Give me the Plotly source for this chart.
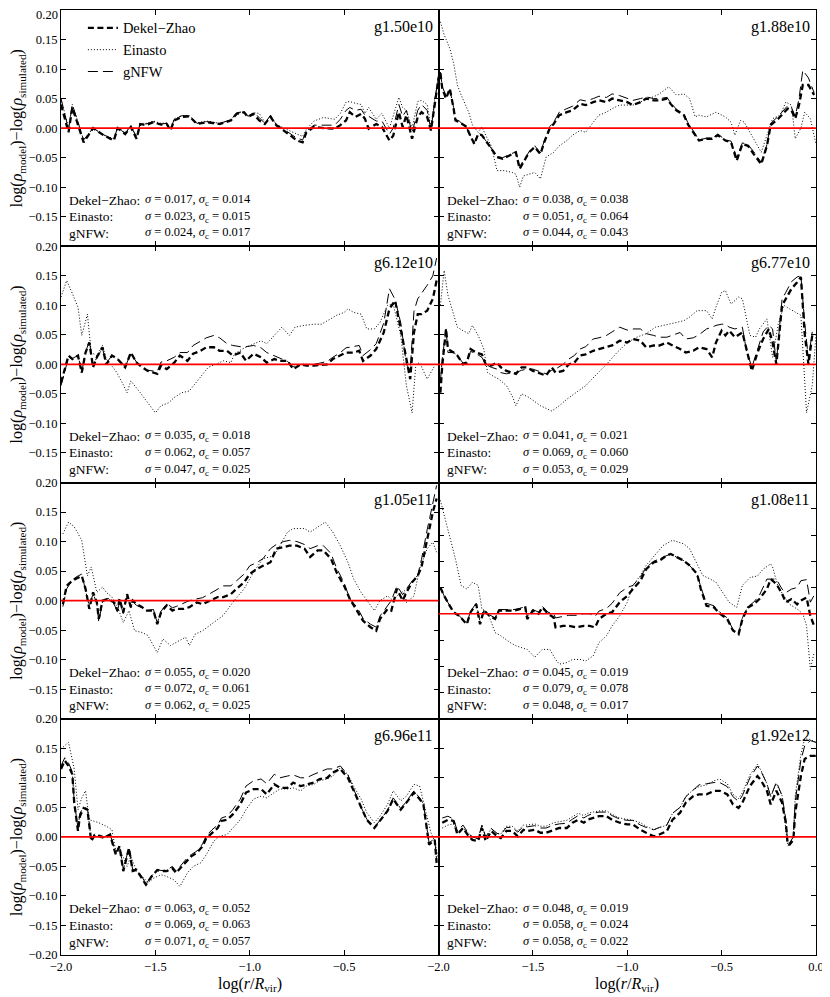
import plotly.graph_objects as go
from plotly.subplots import make_subplots

# ---------------- data ----------------
panel_names = ["g1.50e10", "g1.88e10", "g6.12e10", "g6.77e10",
               "g1.05e11", "g1.08e11", "g6.96e11", "g1.92e12"]

sigma_dz = [0.017, 0.038, 0.035, 0.041, 0.055, 0.045, 0.063, 0.048]
sigmac_dz = [0.014, 0.038, 0.018, 0.021, 0.020, 0.019, 0.052, 0.019]
sigma_ein = [0.023, 0.051, 0.062, 0.069, 0.072, 0.079, 0.069, 0.058]
sigmac_ein = [0.015, 0.064, 0.057, 0.060, 0.061, 0.078, 0.063, 0.024]
sigma_gnfw = [0.024, 0.044, 0.047, 0.053, 0.062, 0.048, 0.071, 0.058]
sigmac_gnfw = [0.017, 0.043, 0.025, 0.029, 0.025, 0.017, 0.057, 0.022]

# panel 1: g1.50e10
x_p1 = [-2.0, -1.96, -1.94, -1.88, -1.83, -1.77, -1.72, -1.70, -1.66, -1.63, -1.60, -1.58, -1.55, -1.51, -1.47,
        -1.44, -1.42, -1.40, -1.36, -1.32, -1.28, -1.23, -1.16, -1.10, -1.07, -1.03, -1.01, -0.98, -0.95, -0.92,
        -0.89, -0.86, -0.82, -0.78, -0.75, -0.72, -0.70, -0.66, -0.61, -0.55, -0.52, -0.49, -0.47, -0.44, -0.41,
        -0.39, -0.37, -0.33, -0.30, -0.26, -0.24, -0.21, -0.19, -0.17, -0.14, -0.11, -0.09, -0.06, -0.04, -0.02, 0.0]
dz_p1 = [0.04, -0.007, 0.035, -0.024, 0.0, -0.013, -0.021, 0.0, -0.01, 0.002, -0.018, 0.007, 0.005, 0.01, 0.006,
         0.007, -0.004, 0.013, 0.019, 0.02, 0.007, 0.01, 0.007, 0.013, 0.024, 0.027, 0.019, 0.024, 0.013, 0.007,
         0.019, 0.005, -0.004, -0.013, -0.021, -0.024, -0.007, 0.002, 0.0, -0.001, 0.005, 0.013, 0.027, 0.019, 0.024,
         0.016, -0.001, 0.007, 0.002, -0.021, -0.013, 0.027, 0.002, 0.022, -0.018, 0.019, 0.027, 0.019, -0.004, 0.04, 0.085]
ein_p1 = [0.05, 0.0, 0.04, -0.02, 0.0, -0.012, -0.018, 0.002, -0.008, 0.004, -0.014, 0.008,
          0.008, 0.012, 0.008, 0.009, 0.0, 0.016, 0.021, 0.021, 0.009, 0.012, 0.008, 0.014,
          0.025, 0.027, 0.02, 0.026, 0.025, 0.01, 0.02, 0.007, 0.0, -0.005, -0.01, -0.014,
          -0.002, 0.012, 0.018, 0.015, 0.025, 0.044, 0.045, 0.042, 0.04, 0.025, 0.035, 0.015,
          0.025, 0.0, 0.02, 0.052, 0.035, 0.03, 0.0, 0.045, 0.047, 0.04, 0.0, 0.05, 0.085]
gnfw_p1 = [0.05, -0.002, 0.04, -0.02, 0.0, -0.012, -0.019, 0.001, -0.009, 0.003, -0.015, 0.008,
           0.007, 0.011, 0.007, 0.008, -0.002, 0.015, 0.021, 0.021, 0.008, 0.011, 0.008, 0.014,
           0.026, 0.028, 0.02, 0.026, 0.018, 0.008, 0.022, 0.006, -0.002, -0.01, -0.017, -0.02,
           -0.005, 0.005, 0.005, 0.005, 0.015, 0.03, 0.035, 0.03, 0.032, 0.022, 0.02, 0.012,
           0.012, -0.01, 0.0, 0.04, 0.02, 0.03, -0.008, 0.03, 0.04, 0.03, -0.003, 0.045, 0.09]

# panel 2: g1.88e10
x_p2 = [-1.99, -1.98, -1.96, -1.94, -1.92, -1.91, -1.89, -1.85, -1.84, -1.81, -1.79, -1.77, -1.73, -1.69, -1.66,
        -1.62, -1.59, -1.57, -1.54, -1.52, -1.49, -1.46, -1.44, -1.41, -1.39, -1.36, -1.32, -1.29, -1.25, -1.22,
        -1.18, -1.15, -1.11, -1.08, -1.04, -1.00, -0.97, -0.93, -0.90, -0.86, -0.83, -0.79, -0.77, -0.74, -0.70,
        -0.68, -0.65, -0.62, -0.58, -0.55, -0.52, -0.48, -0.45, -0.42, -0.39, -0.36, -0.33, -0.29, -0.26, -0.24,
        -0.20, -0.17, -0.15, -0.13, -0.11, -0.09, -0.07, -0.04, -0.01]
dz_p2 = [0.093, 0.067, 0.05, 0.067, 0.033, 0.013, 0.01, 0.002, -0.007, -0.027, -0.01, -0.012, -0.03, -0.049, -0.052,
         -0.046, -0.041, -0.069, -0.052, -0.041, -0.032, -0.044, -0.024, 0.0, 0.007, 0.022, 0.027, 0.03, 0.041, 0.039,
         0.044, 0.047, 0.044, 0.05, 0.047, 0.044, 0.039, 0.044, 0.05, 0.047, 0.047, 0.05, 0.041, 0.03, 0.022,
         0.007, -0.007, -0.021, -0.018, -0.018, -0.012, -0.021, -0.024, -0.055, -0.027, -0.03, -0.044, -0.061, -0.03, 0.005,
         0.016, 0.027, 0.033, 0.03, 0.016, 0.039, 0.073, 0.073, 0.056]
gnfw_p2 = [0.095, 0.07, 0.055, 0.065, 0.035, 0.015, 0.012, 0.0, -0.008, -0.025, -0.008, -0.012, -0.03, -0.048, -0.05,
           -0.045, -0.04, -0.065, -0.05, -0.04, -0.03, -0.042, -0.022, 0.003, 0.01, 0.027, 0.033, 0.037, 0.048, 0.046,
           0.05, 0.054, 0.052, 0.058, 0.055, 0.05, 0.047, 0.05, 0.053, 0.05, 0.05, 0.052, 0.043, 0.032, 0.024,
           0.01, -0.004, -0.02, -0.017, -0.017, -0.01, -0.02, -0.022, -0.05, -0.025, -0.028, -0.04, -0.058, -0.028, 0.008,
           0.02, 0.03, 0.038, 0.035, 0.02, 0.05, 0.098, 0.085, 0.06]
xe_p2 = [-1.99, -1.97, -1.94, -1.92, -1.90, -1.88, -1.84, -1.82, -1.79, -1.77, -1.75, -1.72, -1.69, -1.65, -1.61,
         -1.59, -1.57, -1.55, -1.52, -1.49, -1.46, -1.43, -1.39, -1.36, -1.32, -1.29, -1.25, -1.22, -1.18, -1.15,
         -1.11, -1.08, -1.04, -1.00, -0.97, -0.93, -0.90, -0.86, -0.83, -0.78, -0.74, -0.70, -0.67, -0.64, -0.62,
         -0.58, -0.53, -0.48, -0.45, -0.43, -0.40, -0.38, -0.35, -0.31, -0.29, -0.26, -0.23, -0.19, -0.16, -0.13,
         -0.11, -0.08, -0.06, -0.03, 0.0]
ein_p2 = [0.18, 0.158, 0.135, 0.11, 0.073, 0.056, 0.027, 0.005, -0.007, 0.002, -0.012, -0.03, -0.072, -0.072, -0.075,
          -0.078, -0.1, -0.081, -0.078, -0.075, -0.086, -0.049, -0.041, -0.03, -0.021, -0.012, -0.004, -0.007, 0.01, 0.022,
          0.027, 0.033, 0.039, 0.039, 0.039, 0.044, 0.05, 0.053, 0.058, 0.07, 0.056, 0.058, 0.05, 0.019, 0.022,
          0.019, 0.027, 0.019, 0.01, -0.012, 0.013, 0.01, -0.007, -0.03, -0.041, -0.012, 0.016, 0.022, 0.044, 0.039,
          -0.018, 0.0, 0.027, 0.016, -0.027]

# panel 3: g6.12e10
x_p3 = [-2.0, -1.97, -1.96, -1.94, -1.91, -1.89, -1.87, -1.85, -1.83, -1.81, -1.78, -1.76, -1.73, -1.70, -1.66,
        -1.63, -1.60, -1.57, -1.54, -1.49, -1.47, -1.44, -1.40, -1.37, -1.33, -1.30, -1.26, -1.23, -1.19, -1.16,
        -1.12, -1.09, -1.05, -1.02, -0.98, -0.94, -0.91, -0.87, -0.84, -0.80, -0.77, -0.73, -0.70, -0.66, -0.63,
        -0.59, -0.56, -0.52, -0.49, -0.45, -0.42, -0.40, -0.36, -0.33, -0.29, -0.26, -0.23, -0.20, -0.17, -0.15,
        -0.13, -0.11, -0.09, -0.06, -0.03, -0.01]
dz_p3 = [-0.031, 0.003, 0.015, 0.009, 0.015, -0.014, 0.02, 0.037, -0.005, 0.012, 0.029, 0.0, 0.015, 0.009, -0.005,
         0.02, 0.003, -0.005, -0.011, -0.016, -0.002, -0.008, 0.003, 0.015, 0.006, 0.018, 0.023, 0.029, 0.029, 0.023,
         0.023, 0.015, 0.02, 0.006, 0.018, 0.012, 0.003, 0.009, 0.006, 0.006, -0.008, 0.0, -0.002, -0.002, -0.001,
         0.0, 0.009, 0.015, 0.02, 0.02, 0.023, 0.006, 0.015, 0.026, 0.054, 0.094, 0.108, 0.06, 0.009, -0.025,
         0.054, 0.085, 0.085, 0.091, 0.111, 0.142]
gnfw_p3 = [-0.036, 0.0, 0.012, 0.01, 0.015, -0.012, 0.02, 0.04, -0.003, 0.012, 0.027, 0.002, 0.015, 0.01, -0.004,
           0.018, 0.004, -0.004, -0.01, -0.012, 0.004, 0.006, 0.012, 0.02, 0.02, 0.032, 0.04, 0.045, 0.049, 0.045,
           0.035, 0.032, 0.03, 0.03, 0.032, 0.028, 0.02, 0.015, 0.01, 0.005, -0.004, 0.0, 0.0, 0.0, 0.002,
           0.005, 0.012, 0.02, 0.028, 0.03, 0.032, 0.015, 0.025, 0.035, 0.07, 0.128, 0.11, 0.07, 0.0, -0.01,
           0.09, 0.111, 0.12, 0.134, 0.15, 0.18]
xe_p3 = [-2.0, -1.97, -1.94, -1.91, -1.89, -1.86, -1.84, -1.81, -1.78, -1.76, -1.71, -1.68, -1.65, -1.63, -1.58,
         -1.54, -1.50, -1.47, -1.43, -1.40, -1.36, -1.32, -1.29, -1.25, -1.22, -1.18, -1.14, -1.10, -1.08, -1.04,
         -1.02, -0.98, -0.94, -0.91, -0.87, -0.83, -0.79, -0.76, -0.71, -0.66, -0.62, -0.57, -0.54, -0.50, -0.48,
         -0.45, -0.41, -0.38, -0.34, -0.31, -0.27, -0.24, -0.20, -0.17, -0.14, -0.12, -0.10, -0.06, -0.02]
ein_p3 = [0.114, 0.142, 0.12, 0.097, 0.049, 0.085, 0.02, 0.015, 0.032, 0.009, -0.011, -0.028, -0.048, -0.028, -0.048,
          -0.065, -0.082, -0.07, -0.065, -0.056, -0.048, -0.045, -0.033, -0.019, -0.005, 0.0, 0.006, 0.003, 0.018, 0.026,
          0.029, 0.035, 0.04, 0.035, 0.049, 0.063, 0.049, 0.063, 0.066, 0.068, 0.068, 0.077, 0.083, 0.088, 0.094,
          0.088, 0.085, 0.06, 0.06, 0.071, 0.1, 0.102, 0.049, -0.036, -0.082, 0.0, 0.003, -0.025, -0.002]

# panel 4: g6.77e10
x_p4 = [-1.99, -1.98, -1.96, -1.95, -1.92, -1.90, -1.87, -1.85, -1.83, -1.80, -1.77, -1.75, -1.72, -1.69, -1.67,
        -1.64, -1.61, -1.59, -1.56, -1.53, -1.50, -1.46, -1.43, -1.40, -1.38, -1.34, -1.31, -1.28, -1.25, -1.22,
        -1.18, -1.15, -1.11, -1.08, -1.04, -1.00, -0.97, -0.93, -0.90, -0.86, -0.83, -0.79, -0.76, -0.72, -0.69,
        -0.65, -0.62, -0.58, -0.55, -0.53, -0.50, -0.48, -0.46, -0.43, -0.39, -0.37, -0.34, -0.31, -0.28, -0.25,
        -0.23, -0.21, -0.18, -0.16, -0.13, -0.10, -0.08, -0.06, -0.04, -0.02]
dz_p4 = [-0.048, -0.002, 0.06, 0.026, 0.02, 0.015, 0.0, 0.003, 0.026, 0.02, 0.017, 0.0, -0.002, 0.003, -0.005,
         -0.011, -0.014, -0.016, -0.005, -0.005, -0.011, -0.016, -0.019, -0.005, -0.014, -0.011, 0.0, 0.003, 0.015, 0.017,
         0.023, 0.026, 0.029, 0.032, 0.04, 0.037, 0.043, 0.04, 0.029, 0.032, 0.032, 0.037, 0.032, 0.026, 0.02,
         0.023, 0.029, 0.026, 0.012, 0.037, 0.057, 0.049, 0.057, 0.046, 0.054, 0.026, -0.011, 0.02, 0.043, 0.06,
         0.037, 0.0, 0.1, 0.111, 0.128, 0.139, 0.148, 0.052, 0.0, 0.049]
gnfw_p4 = [-0.03, 0.01, 0.06, 0.02, 0.02, 0.015, 0.002, 0.005, 0.022, 0.018, 0.012, 0.0, -0.005, -0.008, -0.014,
           -0.016, -0.014, -0.014, -0.01, -0.008, -0.008, -0.012, -0.016, -0.01, -0.008, 0.0, 0.009, 0.015, 0.026, 0.03,
           0.043, 0.045, 0.049, 0.055, 0.063, 0.058, 0.06, 0.06, 0.052, 0.049, 0.046, 0.046, 0.05, 0.054, 0.043,
           0.045, 0.05, 0.06, 0.063, 0.066, 0.068, 0.068, 0.063, 0.06, 0.063, 0.026, -0.005, 0.026, 0.055, 0.066,
           0.06, 0.003, 0.11, 0.122, 0.14, 0.148, 0.15, 0.07, 0.009, 0.055]
xe_p4 = [-1.99, -1.97, -1.95, -1.92, -1.90, -1.87, -1.84, -1.82, -1.79, -1.76, -1.74, -1.71, -1.68, -1.64, -1.61,
         -1.59, -1.56, -1.52, -1.46, -1.40, -1.36, -1.32, -1.27, -1.22, -1.16, -1.11, -1.06, -1.00, -0.95, -0.90,
         -0.85, -0.79, -0.74, -0.70, -0.67, -0.63, -0.58, -0.55, -0.53, -0.50, -0.48, -0.45, -0.41, -0.39, -0.35,
         -0.32, -0.30, -0.26, -0.23, -0.20, -0.17, -0.14, -0.08, -0.05, -0.02, 0.0]
ein_p4 = [0.1, 0.159, 0.117, 0.085, 0.063, 0.057, 0.052, 0.066, 0.049, 0.026, -0.014, -0.02, -0.025, -0.036, -0.053,
          -0.07, -0.05, -0.056, -0.07, -0.079, -0.07, -0.059, -0.048, -0.036, -0.016, 0.0, 0.018, 0.037, 0.046, 0.052,
          0.063, 0.068, 0.071, 0.074, 0.08, 0.091, 0.091, 0.077, 0.097, 0.122, 0.125, 0.102, 0.114, 0.111, 0.049,
          0.046, 0.06, 0.077, 0.012, 0.068, 0.1, 0.094, 0.083, -0.082, -0.036, 0.05]

# panel 5: g1.05e11
x_p5 = [-1.99, -1.97, -1.94, -1.92, -1.89, -1.87, -1.85, -1.83, -1.81, -1.80, -1.78, -1.75, -1.72, -1.70, -1.69,
        -1.67, -1.65, -1.63, -1.62, -1.60, -1.57, -1.55, -1.51, -1.49, -1.47, -1.44, -1.41, -1.39, -1.35, -1.32,
        -1.28, -1.25, -1.21, -1.17, -1.14, -1.10, -1.07, -1.03, -1.00, -0.96, -0.93, -0.89, -0.86, -0.82, -0.79,
        -0.75, -0.71, -0.68, -0.64, -0.61, -0.57, -0.54, -0.50, -0.47, -0.43, -0.40, -0.36, -0.33, -0.31, -0.27,
        -0.25, -0.22, -0.19, -0.17, -0.14, -0.11, -0.09, -0.06, -0.03, -0.01]
dz_p5 = [-0.006, 0.025, 0.034, 0.037, 0.042, 0.02, -0.014, 0.014, -0.003, -0.031, 0.0, 0.003, -0.003, -0.017, 0.003,
         -0.02, 0.011, -0.011, 0.0, -0.006, -0.011, -0.017, -0.017, -0.04, -0.02, -0.008, -0.017, -0.014, -0.014, -0.011,
         -0.003, -0.006, 0.0, 0.006, 0.006, 0.011, 0.02, 0.031, 0.045, 0.054, 0.059, 0.065, 0.088, 0.091, 0.093,
         0.093, 0.088, 0.074, 0.085, 0.085, 0.071, 0.048, 0.025, 0.003, -0.017, -0.034, -0.045, -0.051, -0.031, -0.014,
         -0.017, 0.02, 0.0, 0.014, 0.031, 0.042, 0.057, 0.105, 0.15, 0.173]
gnfw_p5 = [-0.01, 0.02, 0.035, 0.04, 0.045, 0.02, -0.01, 0.012, -0.005, -0.036, -0.002, 0.004, -0.005, -0.02, 0.0,
           -0.022, 0.008, -0.012, -0.002, -0.008, -0.012, -0.017, -0.015, -0.038, -0.018, -0.005, -0.012, -0.01, -0.005, 0.0,
           0.003, 0.005, 0.012, 0.02, 0.025, 0.025, 0.033, 0.045, 0.059, 0.065, 0.071, 0.088, 0.095, 0.1, 0.102,
           0.1, 0.095, 0.088, 0.093, 0.093, 0.08, 0.055, 0.03, 0.003, -0.012, -0.03, -0.04, -0.045, -0.026, -0.008,
           0.0, 0.025, 0.01, 0.02, 0.033, 0.043, 0.07, 0.12, 0.165, 0.195]
xe_p5 = [-1.99, -1.96, -1.93, -1.89, -1.86, -1.84, -1.81, -1.78, -1.76, -1.73, -1.70, -1.67, -1.64, -1.61, -1.57,
         -1.54, -1.49, -1.46, -1.42, -1.39, -1.34, -1.32, -1.29, -1.25, -1.19, -1.14, -1.09, -1.03, -0.98, -0.93,
         -0.87, -0.84, -0.80, -0.77, -0.71, -0.68, -0.63, -0.60, -0.56, -0.52, -0.48, -0.45, -0.41, -0.38, -0.34,
         -0.31, -0.27, -0.24, -0.21, -0.18, -0.17, -0.13, -0.10, -0.06, -0.03, -0.01]
ein_p5 = [0.113, 0.133, 0.125, 0.102, 0.042, 0.057, 0.014, 0.023, 0.014, 0.006, -0.011, -0.037, -0.017, -0.051, -0.054,
          -0.059, -0.088, -0.065, -0.076, -0.071, -0.062, -0.076, -0.057, -0.051, -0.037, -0.025, -0.003, 0.02, 0.048, 0.071,
          0.076, 0.093, 0.116, 0.122, 0.122, 0.116, 0.127, 0.133, 0.116, 0.093, 0.065, 0.037, 0.014, 0.0, -0.017,
          0.0, 0.008, 0.0, 0.011, 0.017, -0.003, 0.008, 0.054, 0.088, 0.099, 0.082]

# panel 6: g1.08e11
x_p6 = [-1.99, -1.97, -1.94, -1.92, -1.89, -1.85, -1.83, -1.80, -1.78, -1.76, -1.73, -1.70, -1.68, -1.65, -1.62,
        -1.60, -1.57, -1.54, -1.53, -1.50, -1.47, -1.45, -1.42, -1.39, -1.38, -1.34, -1.31, -1.27, -1.23, -1.20,
        -1.17, -1.15, -1.11, -1.08, -1.04, -1.00, -0.97, -0.93, -0.90, -0.86, -0.83, -0.79, -0.77, -0.74, -0.70,
        -0.67, -0.63, -0.61, -0.58, -0.54, -0.51, -0.47, -0.44, -0.41, -0.39, -0.36, -0.33, -0.30, -0.26, -0.24,
        -0.21, -0.18, -0.16, -0.13, -0.10, -0.08, -0.05, -0.03, -0.01]
dz_p6 = [0.05, 0.034, 0.015, 0.003, -0.004, -0.02, 0.003, 0.018, -0.02, 0.006, -0.004, -0.01, 0.006, 0.006, 0.006,
         0.006, 0.009, 0.012, -0.01, 0.006, 0.0, 0.012, 0.0, -0.007, -0.026, -0.023, -0.023, -0.026, -0.023, -0.023,
         -0.026, -0.01, 0.0, 0.003, 0.022, 0.034, 0.047, 0.063, 0.085, 0.098, 0.101, 0.111, 0.114, 0.108, 0.101,
         0.092, 0.076, 0.047, 0.015, 0.012, 0.0, -0.01, -0.032, -0.039, -0.01, 0.012, 0.018, 0.028, 0.047, 0.066,
         0.057, 0.038, 0.022, 0.028, 0.018, 0.025, 0.031, -0.004, -0.023]
gnfw_p6 = [0.05, 0.034, 0.015, 0.003, -0.004, -0.018, 0.005, 0.02, -0.015, 0.006, -0.002, -0.008, 0.008, 0.008, 0.008,
           0.008, 0.01, 0.014, -0.005, 0.008, 0.003, 0.014, 0.003, 0.0, -0.008, -0.005, -0.003, -0.003, 0.0, 0.0,
           -0.005, 0.005, 0.01, 0.02, 0.04, 0.05, 0.054, 0.07, 0.088, 0.1, 0.105, 0.111, 0.114, 0.108, 0.101,
           0.092, 0.076, 0.05, 0.02, 0.015, 0.003, -0.008, -0.03, -0.037, -0.008, 0.014, 0.022, 0.035, 0.066, 0.066,
           0.066, 0.047, 0.04, 0.047, 0.05, 0.063, 0.065, 0.022, 0.035]
xe_p6 = [-1.99, -1.97, -1.94, -1.91, -1.88, -1.85, -1.82, -1.79, -1.77, -1.74, -1.70, -1.67, -1.62, -1.59, -1.53,
         -1.49, -1.45, -1.41, -1.38, -1.36, -1.32, -1.29, -1.25, -1.22, -1.18, -1.15, -1.11, -1.08, -1.04, -1.00,
         -0.97, -0.93, -0.90, -0.86, -0.81, -0.76, -0.70, -0.67, -0.63, -0.60, -0.56, -0.53, -0.49, -0.46, -0.42,
         -0.39, -0.35, -0.31, -0.28, -0.24, -0.23, -0.20, -0.17, -0.14, -0.10, -0.07, -0.05, -0.03, -0.01]
ein_p6 = [0.216, 0.187, 0.149, 0.104, 0.054, 0.047, 0.06, 0.054, 0.009, 0.003, -0.036, -0.042, -0.055, -0.061, -0.068,
          -0.083, -0.068, -0.068, -0.087, -0.096, -0.093, -0.087, -0.087, -0.09, -0.08, -0.055, -0.042, -0.023, -0.004, 0.022,
          0.054, 0.073, 0.092, 0.108, 0.13, 0.14, 0.133, 0.124, 0.095, 0.073, 0.066, 0.06, 0.038, 0.022, 0.012,
          0.054, 0.069, 0.072, 0.085, 0.095, 0.089, 0.05, 0.034, 0.018, 0.009, 0.0, -0.023, -0.106, -0.074]

# panel 7: g6.96e11
x_p7 = [-2.0, -1.98, -1.96, -1.94, -1.93, -1.91, -1.90, -1.88, -1.86, -1.84, -1.82, -1.79, -1.77, -1.74, -1.71,
        -1.69, -1.67, -1.64, -1.62, -1.60, -1.57, -1.55, -1.52, -1.49, -1.47, -1.44, -1.41, -1.39, -1.36, -1.33,
        -1.31, -1.28, -1.25, -1.23, -1.20, -1.17, -1.15, -1.12, -1.09, -1.05, -1.02, -0.98, -0.94, -0.91, -0.87,
        -0.84, -0.80, -0.77, -0.73, -0.70, -0.66, -0.63, -0.59, -0.56, -0.52, -0.48, -0.45, -0.41, -0.38, -0.34,
        -0.31, -0.27, -0.24, -0.20, -0.17, -0.13, -0.10, -0.08, -0.05, -0.02, -0.01]
dz_p7 = [0.115, 0.129, 0.12, 0.106, 0.058, 0.01, 0.035, 0.049, 0.046, -0.007, 0.004, 0.001, -0.002, 0.004, -0.03,
         -0.016, -0.058, -0.019, -0.058, -0.056, -0.07, -0.081, -0.067, -0.056, -0.058, -0.058, -0.053, -0.061, -0.05, -0.039,
         -0.033, -0.027, -0.016, -0.002, 0.007, 0.015, 0.027, 0.029, 0.038, 0.055, 0.075, 0.081, 0.081, 0.072, 0.089,
         0.083, 0.083, 0.092, 0.086, 0.089, 0.092, 0.098, 0.1, 0.109, 0.115, 0.1, 0.078, 0.049, 0.029, 0.015,
         0.027, 0.044, 0.064, 0.046, 0.058, 0.075, 0.064, 0.055, -0.013, -0.005, -0.044]
gnfw_p7 = [0.12, 0.134, 0.125, 0.11, 0.06, 0.015, 0.04, 0.05, 0.048, -0.004, 0.006, 0.003, 0.0, 0.005, -0.028,
           -0.014, -0.055, -0.018, -0.056, -0.054, -0.068, -0.08, -0.066, -0.055, -0.057, -0.056, -0.05, -0.058, -0.046, -0.035,
           -0.03, -0.024, -0.012, 0.002, 0.012, 0.02, 0.032, 0.035, 0.046, 0.064, 0.086, 0.095, 0.098, 0.09, 0.106,
           0.1, 0.103, 0.105, 0.1, 0.1, 0.106, 0.11, 0.115, 0.115, 0.12, 0.105, 0.08, 0.05, 0.03, 0.016,
           0.028, 0.045, 0.066, 0.048, 0.06, 0.078, 0.066, 0.056, -0.01, -0.003, -0.04]
xe_p7 = [-2.0, -1.96, -1.93, -1.91, -1.89, -1.87, -1.85, -1.83, -1.80, -1.76, -1.73, -1.71, -1.69, -1.65, -1.63,
         -1.60, -1.56, -1.54, -1.51, -1.47, -1.44, -1.40, -1.37, -1.33, -1.30, -1.26, -1.23, -1.19, -1.16, -1.12,
         -1.09, -1.05, -1.02, -0.98, -0.94, -0.91, -0.87, -0.84, -0.80, -0.77, -0.73, -0.70, -0.66, -0.63, -0.59,
         -0.56, -0.52, -0.48, -0.45, -0.41, -0.38, -0.34, -0.31, -0.27, -0.24, -0.20, -0.17, -0.13, -0.10, -0.07,
         -0.04, -0.02, 0.0]
ein_p7 = [0.149, 0.16, 0.115, 0.046, 0.066, 0.078, 0.029, 0.027, 0.024, 0.018, 0.012, -0.024, -0.019, -0.05, -0.033,
          -0.058, -0.07, -0.078, -0.07, -0.064, -0.067, -0.073, -0.084, -0.061, -0.05, -0.044, -0.03, -0.007, 0.001, 0.004,
          0.015, 0.029, 0.046, 0.064, 0.069, 0.066, 0.075, 0.081, 0.081, 0.083, 0.078, 0.086, 0.089, 0.095, 0.098,
          0.103, 0.117, 0.106, 0.086, 0.064, 0.041, 0.024, 0.035, 0.055, 0.078, 0.061, 0.069, 0.089, 0.086, 0.044,
          0.007, -0.007, -0.039]

# panel 8: g1.92e12
x_p8 = [-1.98, -1.95, -1.92, -1.90, -1.87, -1.84, -1.82, -1.79, -1.77, -1.75, -1.72, -1.69, -1.67, -1.64, -1.61,
        -1.58, -1.55, -1.53, -1.49, -1.46, -1.43, -1.39, -1.36, -1.32, -1.29, -1.26, -1.23, -1.21, -1.18, -1.15,
        -1.11, -1.08, -1.04, -1.00, -0.97, -0.93, -0.90, -0.86, -0.83, -0.79, -0.76, -0.72, -0.69, -0.65, -0.62,
        -0.58, -0.54, -0.51, -0.47, -0.44, -0.41, -0.39, -0.35, -0.31, -0.29, -0.26, -0.24, -0.21, -0.18, -0.16,
        -0.15, -0.14, -0.12, -0.11, -0.08, -0.06, -0.03, 0.0]
dz_p8 = [0.024, 0.029, 0.027, 0.004, 0.015, 0.001, -0.005, -0.007, 0.015, -0.007, 0.01, 0.001, -0.002, 0.01, 0.01,
         0.001, 0.012, 0.01, 0.012, 0.007, 0.007, 0.012, 0.015, 0.015, 0.024, 0.029, 0.024, 0.029, 0.032, 0.035,
         0.035, 0.029, 0.024, 0.021, 0.021, 0.012, 0.007, 0.001, 0.004, 0.01, 0.029, 0.041, 0.058, 0.069, 0.072,
         0.072, 0.078, 0.078, 0.072, 0.055, 0.049, 0.058, 0.086, 0.103, 0.095, 0.078, 0.055, 0.078, 0.058, 0.024,
         -0.013, -0.013, -0.005, 0.041, 0.103, 0.132, 0.137, 0.137]
gnfw_p8 = [0.032, 0.035, 0.03, 0.01, 0.02, 0.005, 0.0, -0.003, 0.02, 0.0, 0.014, 0.006, 0.004, 0.016, 0.016,
           0.008, 0.018, 0.017, 0.019, 0.015, 0.015, 0.02, 0.022, 0.023, 0.03, 0.036, 0.032, 0.036, 0.04, 0.042,
           0.042, 0.036, 0.03, 0.028, 0.028, 0.02, 0.016, 0.012, 0.016, 0.02, 0.04, 0.05, 0.068, 0.08, 0.088,
           0.09, 0.092, 0.092, 0.085, 0.068, 0.06, 0.07, 0.1, 0.12, 0.11, 0.09, 0.068, 0.093, 0.07, 0.03,
           -0.01, -0.01, 0.0, 0.06, 0.13, 0.154, 0.163, 0.16]
ein_p8 = [0.015, 0.02, 0.022, 0.008, 0.015, 0.005, 0.0, -0.003, 0.018, 0.0, 0.014, 0.006, 0.005, 0.018, 0.018,
          0.01, 0.02, 0.02, 0.022, 0.018, 0.018, 0.024, 0.026, 0.028, 0.034, 0.04, 0.036, 0.04, 0.042, 0.044,
          0.044, 0.038, 0.032, 0.03, 0.028, 0.024, 0.018, 0.012, 0.016, 0.02, 0.04, 0.05, 0.068, 0.08, 0.085,
          0.088, 0.095, 0.098, 0.09, 0.072, 0.065, 0.075, 0.105, 0.123, 0.112, 0.09, 0.068, 0.09, 0.07, 0.02,
          -0.015, -0.012, 0.0, 0.07, 0.14, 0.166, 0.165, 0.16]

dz_x = [x_p1, x_p2, x_p3, x_p4, x_p5, x_p6, x_p7, x_p8]
dz_y = [dz_p1, dz_p2, dz_p3, dz_p4, dz_p5, dz_p6, dz_p7, dz_p8]
ein_x = [x_p1, xe_p2, xe_p3, xe_p4, xe_p5, xe_p6, xe_p7, x_p8]
ein_y = [ein_p1, ein_p2, ein_p3, ein_p4, ein_p5, ein_p6, ein_p7, ein_p8]
gnfw_x = [x_p1, x_p2, x_p3, x_p4, x_p5, x_p6, x_p7, x_p8]
gnfw_y = [gnfw_p1, gnfw_p2, gnfw_p3, gnfw_p4, gnfw_p5, gnfw_p6, gnfw_p7, gnfw_p8]

y_ranges = [[-0.2, 0.2]] * 5 + [[-0.2, 0.25]] + [[-0.2, 0.2]] * 2
y_ticks_full = [-0.2, -0.15, -0.1, -0.05, 0.0, 0.05, 0.1, 0.15, 0.2]

# ---------------- figure ----------------
FONT = "Liberation Serif, Times New Roman, serif"
# page body adds an 8px margin; the figure is sized so the plot lands where the reference has it
FIG_W, FIG_H = 822, 989
M_L, M_R, M_T, M_B = 53, 14, 2, 42
PLOT_H = FIG_H - M_T - M_B

fig = make_subplots(rows=4, cols=2, horizontal_spacing=0, vertical_spacing=0)

styles = {
    "dz": dict(color="black", width=2.3, dash="6px,3.5px"),
    "ein": dict(color="black", width=1, dash="1px,2px"),
    "gnfw": dict(color="black", width=1, dash="10px,5px"),
}


def pair(xs, ys):
    n = min(len(xs), len(ys))
    return list(xs[:n]), list(ys[:n])


def fmt(v, nd):
    s = f"{v:.{nd}f}"
    return s.replace("-", "\u2212")


for i in range(8):
    r, c = i // 2 + 1, i % 2 + 1
    for key, name, xl, yl in [("dz", "Dekel\u2212Zhao", dz_x, dz_y),
                              ("ein", "Einasto", ein_x, ein_y),
                              ("gnfw", "gNFW", gnfw_x, gnfw_y)]:
        xx, yy = pair(xl[i], yl[i])
        fig.add_trace(go.Scatter(x=xx, y=yy, mode="lines", name=name,
                                 line=styles[key], showlegend=(i == 0),
                                 hoverinfo="skip"), row=r, col=c)
    fig.add_hline(y=0, line=dict(color="#ff0000", width=1.6), row=r, col=c)

    k = i + 1
    xd = "x domain" if k == 1 else f"x{k} domain"
    yd = "y domain" if k == 1 else f"y{k} domain"
    fig.add_annotation(text=panel_names[i], xref=xd, yref=yd, x=0.99, y=0.928,
                       xanchor="right", yanchor="middle", showarrow=False,
                       font=dict(family=FONT, size=16, color="black"))
    labels = ["Dekel\u2212Zhao:", "Einasto:", "gNFW:"]
    sig = [(sigma_dz[i], sigmac_dz[i]), (sigma_ein[i], sigmac_ein[i]), (sigma_gnfw[i], sigmac_gnfw[i])]
    ypos = [0.195, 0.125, 0.055]
    for lab, (s, sc), yp in zip(labels, sig, ypos):
        fig.add_annotation(text=lab, xref=xd, yref=yd, x=0.017, y=yp,
                           xanchor="left", yanchor="middle", showarrow=False,
                           font=dict(family=FONT, size=13.5, color="black"))
        fig.add_annotation(text=f"<i>σ</i> = {s:.3f}, <i>σ</i><sub>c</sub> = {sc:.3f}",
                           xref=xd, yref=yd, x=0.218, y=yp,
                           xanchor="left", yanchor="middle", showarrow=False,
                           font=dict(family=FONT, size=12.5, color="black"))

    # x axes
    bottom = (r == 4)
    xt = [-2.0, -1.5, -1.0, -0.5, 0.0]
    xtt = [fmt(v, 1) for v in xt]
    if bottom and c == 1:
        xtt[-1] = ""  # hidden under the right panel's -2.0
    fig.update_xaxes(range=[-2, 0], tickvals=xt, ticktext=xtt,
                     showticklabels=bottom, ticklabeloverflow="allow",
                     ticks="inside", ticklen=5, tickcolor="black", mirror="ticks",
                     showline=True, linecolor="black", linewidth=1,
                     showgrid=False, zeroline=False, automargin=False,
                     tickfont=dict(family=FONT, size=12.5, color="black"),
                     row=r, col=c)
    if bottom:
        fig.add_annotation(text="log(<i>r</i>/<i>R</i><sub>vir</sub>)",
                           xref=xd, yref="paper", x=0.5, y=-29.0 / PLOT_H,
                           xanchor="center", yanchor="middle", showarrow=False,
                           font=dict(family=FONT, size=16, color="black"))

    # y axes
    yr = y_ranges[i]
    yt = [v for v in y_ticks_full if yr[0] <= v <= yr[1] + 1e-9]
    ytt = [fmt(v, 2) for v in yt]
    if r != 4:
        ytt[0] = ""          # bottom label belongs to the panel below (shows 0.20 there)
    if r == 1:
        ytt[-1] = ""         # drawn as an annotation so it is not clipped at the page top
    fig.update_yaxes(range=yr, tickvals=yt, ticktext=ytt, showticklabels=(c == 1),
                     ticklabeloverflow="allow",
                     ticks="inside", ticklen=5, tickcolor="black", mirror="ticks",
                     showline=True, linecolor="black", linewidth=1,
                     showgrid=False, zeroline=False,
                     tickfont=dict(family=FONT, size=12.5, color="black"),
                     automargin=False, row=r, col=c)
    if c == 1:
        fig.update_yaxes(title=dict(
            text="log(<i>ρ</i><sub>model</sub>)\u2212log(<i>ρ</i><sub>simulated</sub>)",
            font=dict(family=FONT, size=16, color="black"), standoff=1), row=r, col=c)

# top-most y tick label of the first panel, kept inside the page
fig.add_annotation(text=fmt(y_ranges[0][1], 2), xref="x domain", yref="y domain",
                   x=0, y=1, xanchor="right", yanchor="top", xshift=-2, yshift=3,
                   showarrow=False, borderpad=0,
                   font=dict(family=FONT, size=12.5, color="black"))

fig.update_layout(
    width=FIG_W, height=FIG_H,
    margin=dict(l=M_L, r=M_R, t=M_T, b=M_B),
    paper_bgcolor="white", plot_bgcolor="white",
    font=dict(family=FONT, color="black"),
    legend=dict(x=0.029, y=0.998, xanchor="left", yanchor="top",
                bgcolor="rgba(0,0,0,0)", borderwidth=0,
                font=dict(family=FONT, size=14.5, color="black"),
                itemwidth=30, tracegroupgap=0),
    showlegend=True,
)

fig.write_html("out.html")
